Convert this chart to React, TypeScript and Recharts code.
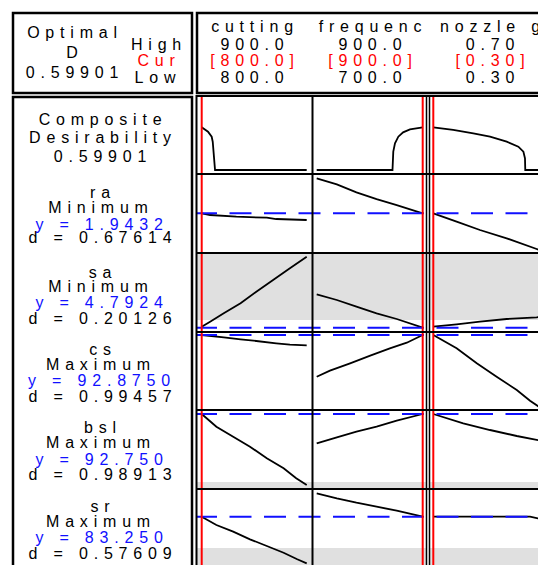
import { LineChart, Line, XAxis, YAxis, ReferenceLine, ReferenceArea } from 'recharts';

// factors (columns)
const factorNames = ['cutting', 'frequenc', 'nozzle g'];
const factorHigh = ['900.0', '900.0', '0.70'];
const factorCurText = ['[800.0]', '[900.0]', '[0.30]'];
const factorLow = ['800.0', '700.0', '0.30'];
const factorCur = [800, 900, 0.3];

// responses (rows 2..6)
const responseNames = ['ra', 'sa', 'cs', 'bsl', 'sr'];
const responseGoals = ['Minimum', 'Minimum', 'Maximum', 'Maximum', 'Maximum'];
const responseYText = ['1.9432', '4.7924', '92.8750', '92.750', '83.250'];
const responseDText = ['0.67614', '0.20126', '0.99457', '0.98913', '0.57609'];
const responseCur = [1.9432, 4.7924, 92.875, 92.75, 83.25];

// curves: [cutting, frequenc, nozzle g], points as [x, y]
const compositeCurves: [number, number][][] = [
  [[800, 0.599], [806, 0.537], [809.5, 0.467], [810.5, 0.397], [812.7, 0], [900, 0]],
  [[700, 0], [843, 0], [844.5, 0.257], [847.7, 0.374], [854, 0.467], [863, 0.528], [876, 0.57], [900, 0.599]],
  [[0.3, 0.599], [0.375, 0.562], [0.451, 0.515], [0.514, 0.467], [0.577, 0.397], [0.621, 0.327], [0.64, 0.257], [0.646, 0.164], [0.647, 0], [0.7, 0]],
];
const raCurves: [number, number][][] = [
  [[800, 1.943], [808, 1.926], [833, 1.909], [862, 1.899], [871, 1.886], [900, 1.876]],
  [[700, 2.293], [738, 2.233], [775, 2.153], [813, 2.086], [851, 2.026], [900, 1.943]],
  [[0.3, 1.943], [0.388, 1.859], [0.476, 1.776], [0.577, 1.693], [0.69, 1.586], [0.7, 1.575]],
];
const saCurves: [number, number][][] = [
  [[800, 4.842], [808, 5.092], [821, 5.512], [837, 6.012], [852, 6.592], [868, 7.177], [884, 7.762], [900, 8.342]],
  [[700, 6.462], [738, 6.177], [775, 5.842], [813, 5.512], [851, 5.227], [900, 4.792]],
  [[0.3, 4.842], [0.388, 4.962], [0.476, 5.092], [0.577, 5.227], [0.69, 5.312], [0.7, 5.33]],
];
const csCurves: [number, number][][] = [
  [[800, 92.875], [821, 92.645], [837, 92.445], [852, 92.275], [871, 92.045], [884, 91.905], [900, 91.845]],
  [[700, 88.705], [725, 89.305], [763, 90.045], [801, 90.805], [838, 91.545], [870, 92.105], [900, 92.875]],
  [[0.3, 92.875], [0.388, 91.545], [0.464, 90.045], [0.539, 88.705], [0.615, 87.375], [0.665, 86.305], [0.7, 85.68]],
];
const bslCurves: [number, number][][] = [
  [[800, 92.75], [814, 91.48], [830, 90.48], [846, 89.48], [862, 88.32], [878, 87.32], [890, 86.32], [900, 85.65]],
  [[700, 89.82], [738, 90.42], [775, 90.98], [813, 91.48], [851, 92.08], [900, 92.75]],
  [[0.3, 92.75], [0.413, 91.82], [0.514, 91.15], [0.615, 90.55], [0.7, 90.12]],
];
const srCurves: [number, number][][] = [
  [[800, 83.25], [814, 82.42], [830, 81.75], [846, 80.99], [862, 80.32], [878, 79.65], [891, 78.99], [900, 78.59]],
  [[700, 85.59], [738, 85.09], [775, 84.65], [813, 84.25], [851, 83.85], [900, 83.25]],
  [[0.3, 83.25], [0.665, 83.25], [0.695, 83.09], [0.7, 83.05]],
];
const allCurves = [compositeCurves, raCurves, saCurves, csCurves, bslCurves, srCurves];

// shaded (undesirable) bands per row: [from, to] or null
const grayBands: ([number, number] | null)[] = [null, null, [5.177, 99], null, [0, 85.95], [0, 80.12]];

// layout
const colGeom = [
  { left: 196, width: 116, px0: 201.7, px1: 306.7, v0: 800, v1: 900 },
  { left: 312, width: 115, px0: 316.7, px1: 422.7, v0: 700, v1: 900 },
  { left: 429, width: 116, px0: 433.3, px1: 539.3, v0: 0.3, v1: 0.7 },
];
const rowGeom = [
  { top: 95, height: 79, py: 170, v: 0, perPx: 1 / 71.3 },
  { top: 174, height: 79, py: 213.3, v: 1.9432, perPx: 0.01 },
  { top: 253, height: 79, py: 327.7, v: 4.7924, perPx: 0.05 },
  { top: 332, height: 78, py: 335, v: 92.875, perPx: 0.1 },
  { top: 410, height: 79, py: 414, v: 92.75, perPx: 0.1 },
  { top: 489, height: 79, py: 516.7, v: 83.25, perPx: 0.1 },
];

const FONT = 'Liberation Sans, Arial, sans-serif';
const BLUE = '#1010ff';
const RED = '#ff0000';
const GRAY = '#e0e0e0';

function Cell({ r, c }: { r: number; c: number }) {
  const cg = colGeom[c];
  const rg = rowGeom[r];
  const k = (cg.v1 - cg.v0) / (cg.px1 - cg.px0);
  const xDomain = [cg.v0 - (cg.px0 - cg.left) * k, cg.v0 + (cg.left + cg.width - cg.px0) * k];
  const yDomain = [rg.v - (rg.top + rg.height - rg.py) * rg.perPx, rg.v + (rg.py - rg.top) * rg.perPx];
  const data = allCurves[r][c].map(([x, y]) => ({ x, y }));
  const band = grayBands[r];
  return (
    <div style={{ position: 'absolute', left: cg.left, top: rg.top }}>
      <LineChart width={cg.width} height={rg.height} data={data} margin={{ top: 0, right: 0, bottom: 0, left: 0 }}>
        <XAxis type="number" dataKey="x" domain={xDomain} hide allowDataOverflow />
        <YAxis type="number" domain={yDomain} hide allowDataOverflow />
        {band && (
          <ReferenceArea
            y1={Math.max(band[0], yDomain[0])}
            y2={Math.min(band[1], yDomain[1])}
            fill={GRAY}
            fillOpacity={1}
            stroke="none"
          />
        )}
        <Line type="linear" dataKey="y" stroke="#000" strokeWidth={1.8} dot={false} isAnimationActive={false} />
        {r > 0 && (
          <ReferenceLine
            y={responseCur[r - 1]}
            stroke={BLUE}
            strokeWidth={2}
            strokeDasharray="22 12.5"
            strokeDashoffset={(cg.left - 195) % 34.5}
          />
        )}
        <ReferenceLine x={factorCur[c]} stroke={RED} strokeWidth={2} />
      </LineChart>
    </div>
  );
}

const T = ({ x, y, fill = '#000', children }: { x: number; y: number; fill?: string; children: any }) => (
  <text x={x + 3} y={y} textAnchor="middle" fill={fill} fontSize={16} letterSpacing={5.8} fontFamily={FONT}>
    {children}
  </text>
);

const labelRows = [
  [198, 213, 230, 243],
  [278, 292, 308, 324],
  [355, 370, 386, 402],
  [433, 448, 465, 480],
  [512, 527, 543, 559],
];
const colCenters = [252, 370, 490];

export default function App() {
  const cells = [];
  for (let r = 0; r < 6; r++) for (let c = 0; c < 3; c++) cells.push(<Cell key={`${r}-${c}`} r={r} c={c} />);
  return (
    <div style={{ position: 'absolute', left: 0, top: 0, width: 538, height: 565, overflow: 'hidden', background: '#fff' }}>
      {cells}
      <svg width={538} height={565} style={{ position: 'absolute', left: 0, top: 0, pointerEvents: 'none' }}>
        <g fill="none" stroke="#000" strokeWidth={2.5}>
          <rect x={13} y={13} width={179} height={80} />
          <rect x={197} y={13} width={350} height={80} />
          <rect x={13} y={97} width={179} height={480} />
        </g>
        <g stroke="#000" strokeWidth={2}>
          <line x1={196.5} y1={95} x2={196.5} y2={565} />
          <line x1={312.5} y1={95} x2={312.5} y2={565} />
          {[96, 174, 253, 332, 410, 489].map((y) => (
            <line key={y} x1={196} y1={y} x2={538} y2={y} />
          ))}
        </g>
        <g stroke="#000" strokeWidth={1.5}>
          <line x1={426.5} y1={95} x2={426.5} y2={565} />
          <line x1={429.5} y1={95} x2={429.5} y2={565} />
        </g>
        <T x={72} y={38}>Optimal</T>
        <T x={72} y={58}>D</T>
        <T x={72} y={78}>0.59901</T>
        <T x={156} y={50}>High</T>
        <T x={156} y={66} fill={RED}>Cur</T>
        <T x={155} y={83}>Low</T>
        {factorNames.map((n, i) => (
          <g key={n}>
            <T x={colCenters[i]} y={32}>{n}</T>
            <T x={colCenters[i]} y={50}>{factorHigh[i]}</T>
            <T x={colCenters[i]} y={66} fill={RED}>{factorCurText[i]}</T>
            <T x={colCenters[i]} y={83}>{factorLow[i]}</T>
          </g>
        ))}
        <T x={100} y={125}>Composite</T>
        <T x={100} y={143}>Desirability</T>
        <T x={100} y={162}>0.59901</T>
        {responseNames.map((n, i) => (
          <g key={n}>
            <T x={100} y={labelRows[i][0]}>{n}</T>
            <T x={98} y={labelRows[i][1]}>{responseGoals[i]}</T>
            <T x={99} y={labelRows[i][2]} fill={BLUE}>{`y = ${responseYText[i]}`}</T>
            <T x={100} y={labelRows[i][3]}>{`d = ${responseDText[i]}`}</T>
          </g>
        ))}
      </svg>
    </div>
  );
}
